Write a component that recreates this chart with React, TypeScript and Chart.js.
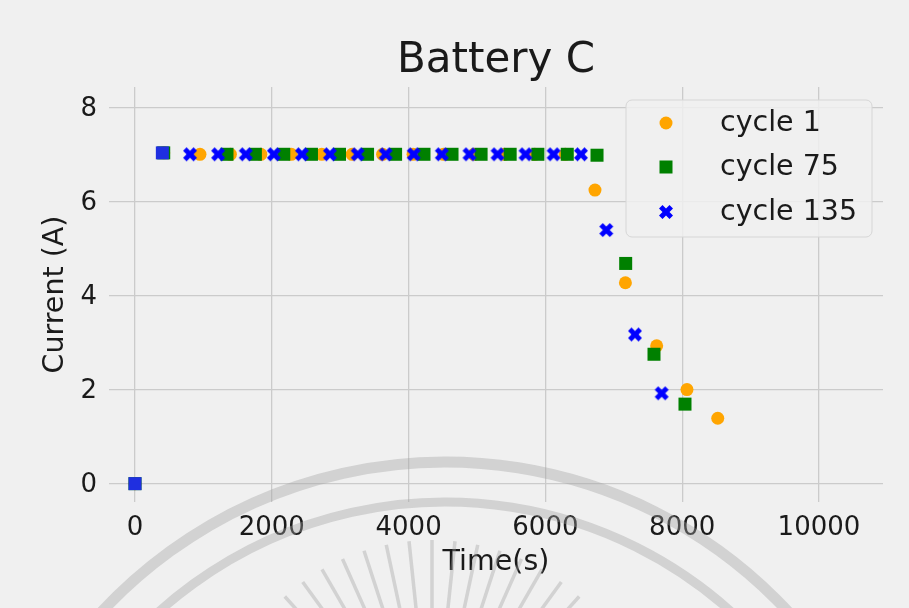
import React, { useEffect, useRef } from "react";
import { Chart, registerables } from "chart.js";

Chart.register(...registerables);

// Discharge current vs. time for three cycles of battery C
const cycle1Time = [0, 420, 950, 1395, 1840, 2285, 2730, 3175, 3620, 4065, 4510, 4955, 5400, 5845, 6290, 6725, 7170, 7627, 8070, 8520];
const cycle1Current = [0, 7.03, 7.0, 7.0, 7.0, 7.0, 7.0, 7.0, 7.0, 7.0, 7.0, 7.0, 7.0, 7.0, 7.0, 6.24, 4.27, 2.93, 2.0, 1.39];

const cycle75Time = [0, 420, 1345, 1760, 2175, 2580, 2990, 3400, 3810, 4225, 4635, 5060, 5485, 5890, 6320, 6755, 7174, 7588, 8041];
const cycle75Current = [0, 7.03, 7.0, 7.0, 7.0, 7.0, 7.0, 7.0, 7.0, 7.0, 7.0, 7.0, 7.0, 7.0, 7.0, 6.98, 4.68, 2.75, 1.69];

const cycle135Time = [0, 400, 805, 1215, 1620, 2030, 2440, 2850, 3255, 3665, 4075, 4485, 4890, 5300, 5710, 6120, 6520, 6890, 7310, 7700];
const cycle135Current = [0, 7.03, 7.0, 7.0, 7.0, 7.0, 7.0, 7.0, 7.0, 7.0, 7.0, 7.0, 7.0, 7.0, 7.0, 7.0, 7.0, 5.39, 3.17, 1.92];

const seriesLabels = ["cycle 1", "cycle 75", "cycle 135"];
const seriesColors = ["#ffa500", "#008000", "#0000ff"];

const xTicks = [0, 2000, 4000, 6000, 8000, 10000];
const yTicks = [0, 2, 4, 6, 8];

const FONT = "'DejaVu Sans', sans-serif";
const BG = "#f0f0f0";
const GRID = "#cbcbcb";

// Filled "X" marker, built from a plus shape rotated by 45 degrees
function makeXMarker(color: string, halfExtent: number): HTMLCanvasElement {
  const size = Math.ceil(halfExtent * 2 + 2);
  const c = document.createElement("canvas");
  c.width = size;
  c.height = size;
  const ctx = c.getContext("2d")!;
  const plus = [
    [-1, -3], [1, -3], [1, -1], [3, -1], [3, 1], [1, 1],
    [1, 3], [-1, 3], [-1, 1], [-3, 1], [-3, -1], [-1, -1],
  ];
  const s = halfExtent / (4 / Math.SQRT2);
  const cx = size / 2;
  const cy = size / 2;
  ctx.beginPath();
  plus.forEach(([px, py], i) => {
    const rx = ((px - py) / Math.SQRT2) * s;
    const ry = ((px + py) / Math.SQRT2) * s;
    if (i === 0) ctx.moveTo(cx + rx, cy + ry);
    else ctx.lineTo(cx + rx, cy + ry);
  });
  ctx.closePath();
  ctx.fillStyle = color;
  ctx.fill();
  return c;
}

function toPoints(xs: number[], ys: number[]) {
  return xs.map((x, i) => ({ x, y: ys[i] }));
}

export default function App() {
  const canvasRef = useRef<HTMLCanvasElement | null>(null);

  useEffect(() => {
    const canvas = canvasRef.current;
    if (!canvas) return;
    const xMarker = makeXMarker(seriesColors[2], 7);
    const blueStyles = cycle135Time.map((_, i) => (i < 2 ? "rect" : xMarker));

    const decorations = {
      id: "decorations",
      beforeDraw(chart: any) {
        const ctx = chart.ctx;
        ctx.save();
        ctx.fillStyle = BG;
        ctx.fillRect(0, 0, chart.width, chart.height);
        ctx.restore();
      },
      afterDraw(chart: any) {
        const ctx = chart.ctx;
        const area = chart.chartArea;
        const cx = (area.left + area.right) / 2;
        ctx.save();
        ctx.fillStyle = "#1a1a1a";
        // title
        ctx.font = `42px ${FONT}`;
        ctx.textAlign = "center";
        ctx.textBaseline = "alphabetic";
        ctx.fillText("Battery C", cx, 72);
        // axis titles
        ctx.font = `28.5px ${FONT}`;
        ctx.textBaseline = "middle";
        ctx.fillText("Time(s)", cx, 563);
        ctx.save();
        ctx.translate(56, (area.top + area.bottom) / 2);
        ctx.rotate(-Math.PI / 2);
        ctx.fillText("Current (A)", 0, 0);
        ctx.restore();

        // legend
        const lx = 626, ly = 100, lw = 246, lh = 137, r = 6;
        ctx.beginPath();
        ctx.moveTo(lx + r, ly);
        ctx.arcTo(lx + lw, ly, lx + lw, ly + lh, r);
        ctx.arcTo(lx + lw, ly + lh, lx, ly + lh, r);
        ctx.arcTo(lx, ly + lh, lx, ly, r);
        ctx.arcTo(lx, ly, lx + lw, ly, r);
        ctx.closePath();
        ctx.fillStyle = "rgba(240,240,240,0.85)";
        ctx.fill();
        ctx.strokeStyle = "#d6d6d6";
        ctx.lineWidth = 1;
        ctx.stroke();

        const rows = [123, 167, 212];
        seriesLabels.forEach((label, i) => {
          const my = rows[i];
          const mx = 666;
          ctx.fillStyle = seriesColors[i];
          if (i === 0) {
            ctx.beginPath();
            ctx.arc(mx, my, 6.5, 0, Math.PI * 2);
            ctx.fill();
          } else if (i === 1) {
            ctx.fillRect(mx - 6.5, my - 6.5, 13, 13);
          } else {
            ctx.drawImage(xMarker, mx - xMarker.width / 2, my - xMarker.height / 2);
          }
          ctx.fillStyle = "#1a1a1a";
          ctx.font = `28.5px ${FONT}`;
          ctx.textAlign = "left";
          ctx.textBaseline = "middle";
          ctx.fillText(label, 720, my + 1);
        });

        // faint emblem overlay near the bottom
        ctx.strokeStyle = "rgba(160,160,160,0.38)";
        ctx.lineCap = "butt";
        ctx.lineWidth = 11;
        ctx.beginPath();
        ctx.arc(445, 930, 468, Math.PI * 1.05, Math.PI * 1.95);
        ctx.stroke();
        ctx.lineWidth = 9;
        ctx.beginPath();
        ctx.arc(445, 930, 428, Math.PI * 1.05, Math.PI * 1.95);
        ctx.stroke();
        ctx.lineWidth = 3.5;
        for (let k = 0; k < 19; k++) {
          const ang = Math.PI * (1.2 + (0.6 * k) / 18);
          const r0 = 110, r1 = 220;
          ctx.beginPath();
          ctx.moveTo(432 + Math.cos(ang) * r0, 760 + Math.sin(ang) * r0);
          ctx.lineTo(432 + Math.cos(ang) * r1, 760 + Math.sin(ang) * r1);
          ctx.stroke();
        }
        ctx.restore();
      },
    };

    const chart = new Chart(canvas, {
      type: "scatter",
      data: {
        datasets: [
          {
            label: seriesLabels[0],
            data: toPoints(cycle1Time, cycle1Current),
            backgroundColor: seriesColors[0],
            borderWidth: 0,
            pointStyle: "circle",
            pointRadius: 6.5,
            order: 3,
          },
          {
            label: seriesLabels[1],
            data: toPoints(cycle75Time, cycle75Current),
            backgroundColor: seriesColors[1],
            borderWidth: 0,
            pointStyle: "rect",
            pointRadius: 9.2,
            order: 2,
          },
          {
            label: seriesLabels[2],
            data: toPoints(cycle135Time, cycle135Current),
            backgroundColor: "#1f2fe0",
            borderWidth: 0,
            pointStyle: blueStyles as any,
            pointRadius: 9.2,
            order: 1,
          },
        ],
      },
      options: {
        animation: false,
        responsive: false,
        devicePixelRatio: 1,
        layout: { padding: { top: 87, right: 26, left: 0, bottom: 0 } },
        plugins: {
          legend: { display: false },
          title: { display: false },
          tooltip: { enabled: false },
        },
        scales: {
          x: {
            type: "linear",
            min: -380,
            max: 10936,
            afterBuildTicks: (scale: any) => {
              scale.ticks = xTicks.map((v) => ({ value: v }));
            },
            afterFit: (scale: any) => {
              scale.height = 106;
            },
            ticks: {
              font: { family: FONT, size: 26 },
              color: "#1a1a1a",
              padding: 11,
              maxRotation: 0,
              callback: (v: any) => String(v),
            },
            grid: { color: GRID, lineWidth: 1.3, drawTicks: false },
            border: { display: false },
          },
          y: {
            type: "linear",
            min: -0.39,
            max: 8.43,
            afterBuildTicks: (scale: any) => {
              scale.ticks = yTicks.map((v) => ({ value: v }));
            },
            afterFit: (scale: any) => {
              scale.width = 109;
            },
            ticks: {
              font: { family: FONT, size: 26 },
              color: "#1a1a1a",
              padding: 12,
              labelOffset: 2,
              callback: (v: any) => String(v),
            },
            grid: { color: GRID, lineWidth: 1.3, drawTicks: false },
            border: { display: false },
          },
        },
      },
      plugins: [decorations],
    } as any);

    return () => chart.destroy();
  }, []);

  return (
    <div style={{ position: "absolute", left: 0, top: 0, width: 909, height: 608, background: BG }}>
      <canvas ref={canvasRef} width={909} height={608} style={{ display: "block", width: 909, height: 608 }} />
    </div>
  );
}
